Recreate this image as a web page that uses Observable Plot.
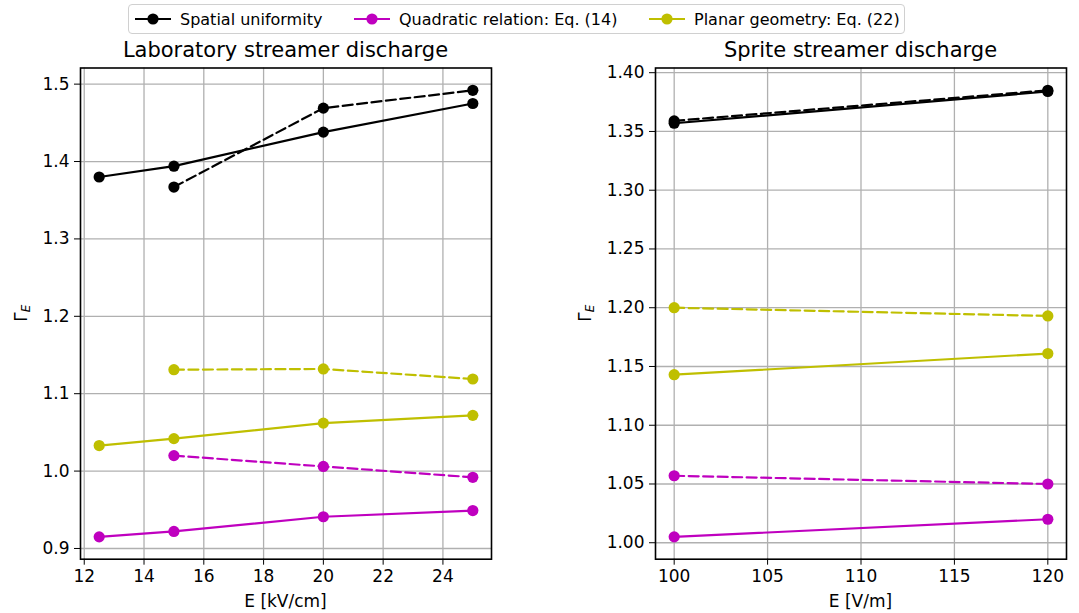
<!DOCTYPE html>
<html>
<head>
<meta charset="utf-8">
<script src="https://cdn.jsdelivr.net/npm/d3@7"></script>
<script src="https://cdn.jsdelivr.net/npm/@observablehq/plot@0.6"></script>
<style>
  html, body { margin: 0; padding: 0; background: white; }
  #root { position: relative; width: 1079px; height: 613px; overflow: hidden; font-family: 'DejaVu Sans', sans-serif; }
  #legend { position: absolute; left: 128px; top: 4px; width: 777px; height: 30px; box-sizing: border-box;
    border: 1px solid #d0d0d0; border-radius: 4px; background: white; font-size: 16px; color: #000; }
  .item { position: absolute; top: 0; height: 28px; display: flex; align-items: center; white-space: nowrap; }
  .item svg { margin-right: 8px; }
  .panel { position: absolute; top: 40px; }
</style>
</head>
<body>
<div id="root">
  <div id="legend"></div>
  <div id="left" class="panel" style="left:0px"></div>
  <div id="right" class="panel" style="left:540px"></div>
</div>
<script>
// ---------- data ----------
const seriesNames = ["Spatial uniformity", "Quadratic relation: Eq. (14)", "Planar geometry: Eq. (22)"];
const seriesColors = ["#000000", "#bf00bf", "#bfbf00"];

// Laboratory streamer discharge
const labTitle = "Laboratory streamer discharge";
const labXLabel = "E [kV/cm]";
const labE_solid = [12.5, 15, 20, 25];
const labE_dashed = [15, 20, 25];
const labUniformSolid = [1.380, 1.394, 1.438, 1.475];
const labUniformDashed = [1.367, 1.469, 1.492];
const labQuadSolid = [0.915, 0.922, 0.941, 0.949];
const labQuadDashed = [1.020, 1.006, 0.992];
const labPlanarSolid = [1.033, 1.042, 1.062, 1.072];
const labPlanarDashed = [1.131, 1.132, 1.119];
const labXTicks = [12, 14, 16, 18, 20, 22, 24];
const labYTicks = [0.9, 1.0, 1.1, 1.2, 1.3, 1.4, 1.5];

// Sprite streamer discharge
const spriteTitle = "Sprite streamer discharge";
const spriteXLabel = "E [V/m]";
const spriteE = [100, 120];
const spriteUniformSolid = [1.357, 1.384];
const spriteUniformDashed = [1.359, 1.385];
const spriteQuadSolid = [1.005, 1.020];
const spriteQuadDashed = [1.057, 1.050];
const spritePlanarSolid = [1.143, 1.161];
const spritePlanarDashed = [1.200, 1.193];
const spriteXTicks = [100, 105, 110, 115, 120];
const spriteYTicks = [1.00, 1.05, 1.10, 1.15, 1.20, 1.25, 1.30, 1.35, 1.40];

const yLabelMain = "Γ";
const yLabelSub = "E";

// ---------- helpers ----------
const FONT = "'DejaVu Sans', sans-serif";

function rows(xs, ys, series, dashed) {
  return xs.map((x, i) => ({x, y: ys[i], series, dashed}));
}

function padDomain(vals) {
  const [a, b] = d3.extent(vals);
  const m = (b - a) * 0.05;
  return [a - m, b + m];
}

function addText(svg, x, y, str, size, anchor = "middle") {
  d3.select(svg).append("text")
    .attr("x", x).attr("y", y)
    .attr("text-anchor", anchor)
    .attr("font-family", FONT)
    .attr("font-size", size)
    .attr("fill", "black")
    .text(str);
}

function addYLabel(svg, x, y) {
  const t = d3.select(svg).append("text")
    .attr("transform", `translate(${x},${y}) rotate(-90)`)
    .attr("text-anchor", "middle")
    .attr("font-family", FONT)
    .attr("font-size", 17)
    .attr("fill", "black");
  t.append("tspan").text(yLabelMain);
  t.append("tspan").attr("font-size", 12).attr("font-style", "italic").attr("dy", 3).text(yLabelSub);
}

function panel(cfg) {
  const data = cfg.data;
  const xDomain = padDomain(data.map(d => d.x));
  const yDomain = padDomain(data.map(d => d.y));
  const color = {domain: seriesNames, range: seriesColors};
  const lineMarks = [];
  for (const name of seriesNames) {
    for (const dashed of [false, true]) {
      const sub = data.filter(d => d.series === name && d.dashed === dashed);
      if (!sub.length) continue;
      lineMarks.push(Plot.line(sub, {x: "x", y: "y", stroke: "series", strokeWidth: 2.2,
        strokeDasharray: dashed ? "10,4.5" : null}));
      lineMarks.push(Plot.dot(sub, {x: "x", y: "y", fill: "series", r: 5.6, stroke: "none"}));
    }
  }
  const svg = Plot.plot({
    width: cfg.width, height: cfg.height,
    marginLeft: cfg.ml, marginRight: cfg.mr, marginTop: cfg.mt, marginBottom: cfg.mb,
    style: {fontFamily: FONT, fontSize: "17px", color: "black", background: "white", overflow: "visible"},
    x: {domain: xDomain},
    y: {domain: yDomain},
    color,
    marks: [
      Plot.gridX(cfg.xTicks, {stroke: "#b0b0b0", strokeOpacity: 1, strokeWidth: 1.3}),
      Plot.gridY(cfg.yTicks, {stroke: "#b0b0b0", strokeOpacity: 1, strokeWidth: 1.3}),
      ...lineMarks,
      Plot.frame({stroke: "black", strokeWidth: 1.6}),
      Plot.axisX(cfg.xTicks, {tickSize: 6, tickPadding: 5, label: null, fontSize: 17, tickFormat: d3.format("d")}),
      Plot.axisY(cfg.yTicks, {tickSize: 6, tickPadding: 5, label: null, fontSize: 17, tickFormat: cfg.yFormat})
    ]
  });
  const cx = cfg.ml + (cfg.width - cfg.ml - cfg.mr) / 2;
  addText(svg, cx, 17.3, cfg.title, 21);
  addText(svg, cx, 566.5, cfg.xlabel, 17);
  addYLabel(svg, cfg.ylx, cfg.mt + (cfg.height - cfg.mt - cfg.mb) / 2);
  return svg;
}

// ---------- build data ----------
const labData = [
  ...rows(labE_solid, labUniformSolid, seriesNames[0], false),
  ...rows(labE_dashed, labUniformDashed, seriesNames[0], true),
  ...rows(labE_solid, labQuadSolid, seriesNames[1], false),
  ...rows(labE_dashed, labQuadDashed, seriesNames[1], true),
  ...rows(labE_solid, labPlanarSolid, seriesNames[2], false),
  ...rows(labE_dashed, labPlanarDashed, seriesNames[2], true)
];
const spriteData = [
  ...rows(spriteE, spriteUniformSolid, seriesNames[0], false),
  ...rows(spriteE, spriteUniformDashed, seriesNames[0], true),
  ...rows(spriteE, spriteQuadSolid, seriesNames[1], false),
  ...rows(spriteE, spriteQuadDashed, seriesNames[1], true),
  ...rows(spriteE, spritePlanarSolid, seriesNames[2], false),
  ...rows(spriteE, spritePlanarDashed, seriesNames[2], true)
];

document.getElementById("left").appendChild(panel({
  data: labData, width: 530, height: 573, ml: 80, mr: 39, mt: 27.5, mb: 54.3,
  xTicks: labXTicks, yTicks: labYTicks, yFormat: d3.format(".1f"),
  title: labTitle, xlabel: labXLabel, ylx: 27
}));
document.getElementById("right").appendChild(panel({
  data: spriteData, width: 539, height: 573, ml: 115, mr: 13, mt: 27.5, mb: 54.3,
  xTicks: spriteXTicks, yTicks: spriteYTicks, yFormat: d3.format(".2f"),
  title: spriteTitle, xlabel: spriteXLabel, ylx: 51
}));

// ---------- legend ----------
const legend = document.getElementById("legend");
const itemLeft = [5, 224, 519];
seriesNames.forEach((name, i) => {
  const div = document.createElement("div");
  div.className = "item";
  div.style.left = itemLeft[i] + "px";
  div.innerHTML = `<svg width="38" height="12"><line x1="1" x2="37" y1="6" y2="6" stroke="${seriesColors[i]}" stroke-width="2.2"/><circle cx="19" cy="6" r="5.6" fill="${seriesColors[i]}"/></svg><span></span>`;
  div.querySelector("span").textContent = name;
  legend.appendChild(div);
});
</script>
</body>
</html>
